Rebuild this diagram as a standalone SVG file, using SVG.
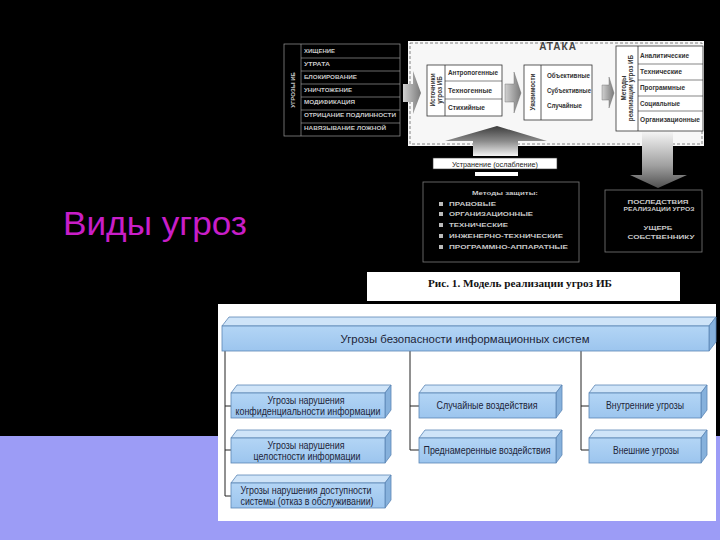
<svg xmlns="http://www.w3.org/2000/svg" width="720" height="540" viewBox="0 0 720 540">
<defs>
<linearGradient id="gFront" x1="0" y1="0" x2="0" y2="1"><stop offset="0" stop-color="#b3d5f5"/><stop offset="1" stop-color="#9cc5ee"/></linearGradient>
<linearGradient id="gArrowH" x1="0" y1="0" x2="1" y2="0"><stop offset="0" stop-color="#d0d0d0"/><stop offset="1" stop-color="#7a7a7a"/></linearGradient>
<linearGradient id="gUp" x1="0" y1="0" x2="0" y2="1"><stop offset="0" stop-color="#3c3c3c"/><stop offset="0.5" stop-color="#8a8a8a"/><stop offset="1" stop-color="#f4f4f4"/></linearGradient>
<linearGradient id="gDown" x1="0" y1="0" x2="0" y2="1"><stop offset="0" stop-color="#f4f4f4"/><stop offset="0.6" stop-color="#a0a0a0"/><stop offset="1" stop-color="#505050"/></linearGradient>
</defs>
<style>
.front{fill:url(#gFront);stroke:#5a85b5;stroke-width:0.8}
.top{fill:#cfe4f8;stroke:#5a85b5;stroke-width:0.8}
.side{fill:#86b1dc;stroke:#5a85b5;stroke-width:0.8}
.bt{font-family:"Liberation Sans",Arial,sans-serif;font-size:10.5px;fill:#1c2438;text-anchor:middle}
.conn{stroke:#222;stroke-width:1;fill:none}
.tw{font-family:"Liberation Sans",Arial,sans-serif;font-size:6px;font-weight:bold;fill:#c8c8c8}
.tb{font-family:"Liberation Sans",Arial,sans-serif;font-size:6.3px;font-weight:bold;fill:#333}
.ln{stroke:#9a9a9a;stroke-width:0.7;fill:none}
.bx{fill:#fff;stroke:#333;stroke-width:0.8}
</style>
<rect x="0" y="0" width="720" height="540" fill="#000"/>
<rect x="0" y="436" width="720" height="104" fill="#9c9cf6"/>

<text id="title" x="63" y="235" font-family="'Liberation Sans',Arial,sans-serif" font-size="33" fill="#c81ec8" textLength="184" lengthAdjust="spacingAndGlyphs">Виды угроз</text>

<!-- Top scanned figure -->
<g id="threat-table">
<rect x="284" y="44" width="116" height="92" class="ln"/>
<line x1="301" y1="44" x2="301" y2="136" class="ln"/>
<line x1="301" y1="58" x2="400" y2="58" class="ln"/>
<line x1="301" y1="71" x2="400" y2="71" class="ln"/>
<line x1="301" y1="84" x2="400" y2="84" class="ln"/>
<line x1="301" y1="97" x2="400" y2="97" class="ln"/>
<line x1="301" y1="110" x2="400" y2="110" class="ln"/>
<line x1="301" y1="123" x2="400" y2="123" class="ln"/>
<text class="tw" transform="translate(295,90) rotate(-90)" text-anchor="middle" font-size="7">УГРОЗЫ ИБ</text>
<text class="tw" x="304" y="53" textLength="31" lengthAdjust="spacingAndGlyphs">ХИЩЕНИЕ</text>
<text class="tw" x="304" y="66" textLength="26" lengthAdjust="spacingAndGlyphs">УТРАТА</text>
<text class="tw" x="304" y="79" textLength="53" lengthAdjust="spacingAndGlyphs">БЛОКИРОВАНИЕ</text>
<text class="tw" x="304" y="92" textLength="48" lengthAdjust="spacingAndGlyphs">УНИЧТОЖЕНИЕ</text>
<text class="tw" x="304" y="104" textLength="51" lengthAdjust="spacingAndGlyphs">МОДИФИКАЦИЯ</text>
<text class="tw" x="304" y="117" textLength="92" lengthAdjust="spacingAndGlyphs">ОТРИЦАНИЕ ПОДЛИННОСТИ</text>
<text class="tw" x="304" y="130" textLength="82" lengthAdjust="spacingAndGlyphs">НАВЯЗЫВАНИЕ ЛОЖНОЙ</text>
</g>

<g id="attack">
<rect x="408" y="41" width="296" height="105" fill="#f7f7f7"/>
<rect x="410" y="43" width="292" height="101" fill="none" stroke="#666" stroke-width="0.8" stroke-dasharray="3,2"/>
<text x="558" y="50" font-family="'Liberation Sans',Arial,sans-serif" font-size="10" font-weight="bold" fill="#444" text-anchor="middle" letter-spacing="1">АТАКА</text>
</g>

<g id="sources">
<rect x="427" y="65" width="75" height="51" class="bx"/>
<line x1="445" y1="65" x2="445" y2="116" stroke="#333" stroke-width="0.8"/>
<line x1="445" y1="81" x2="502" y2="81" stroke="#333" stroke-width="0.6"/>
<line x1="445" y1="99" x2="502" y2="99" stroke="#333" stroke-width="0.6"/>
<text class="tb" transform="translate(435,90) rotate(-90)" text-anchor="middle">Источники</text>
<text class="tb" transform="translate(442,90) rotate(-90)" text-anchor="middle">угроз ИБ</text>
<text class="tb" x="448" y="75" textLength="50" lengthAdjust="spacingAndGlyphs">Антропогенные</text>
<text class="tb" x="448" y="93" textLength="44" lengthAdjust="spacingAndGlyphs">Техногенные</text>
<text class="tb" x="448" y="110" textLength="37" lengthAdjust="spacingAndGlyphs">Стихийные</text>
</g>

<g id="vulnerabilities">
<rect x="524" y="65" width="68" height="55" class="bx"/>
<line x1="541" y1="65" x2="541" y2="120" stroke="#333" stroke-width="0.8"/>
<text class="tb" transform="translate(535,92) rotate(-90)" text-anchor="middle">Уязвимости</text>
<text class="tb" x="547" y="78" textLength="43" lengthAdjust="spacingAndGlyphs">Объективные</text>
<text class="tb" x="547" y="93" textLength="44" lengthAdjust="spacingAndGlyphs">Субъективные</text>
<text class="tb" x="547" y="108" textLength="35" lengthAdjust="spacingAndGlyphs">Случайные</text>
</g>

<g id="methods">
<rect x="616" y="46" width="87" height="85" class="bx"/>
<line x1="638" y1="46" x2="638" y2="131" stroke="#333" stroke-width="0.8"/>
<line x1="638" y1="64" x2="703" y2="64" stroke="#333" stroke-width="0.6"/>
<line x1="638" y1="80" x2="703" y2="80" stroke="#333" stroke-width="0.6"/>
<line x1="638" y1="96" x2="703" y2="96" stroke="#333" stroke-width="0.6"/>
<line x1="638" y1="111" x2="703" y2="111" stroke="#333" stroke-width="0.6"/>
<text class="tb" transform="translate(626,88) rotate(-90)" text-anchor="middle">Методы</text>
<text class="tb" transform="translate(633,88) rotate(-90)" text-anchor="middle">реализации угроз ИБ</text>
<text class="tb" x="640" y="58" textLength="49" lengthAdjust="spacingAndGlyphs">Аналитические</text>
<text class="tb" x="640" y="74" textLength="42" lengthAdjust="spacingAndGlyphs">Технические</text>
<text class="tb" x="640" y="90" textLength="45" lengthAdjust="spacingAndGlyphs">Программные</text>
<text class="tb" x="640" y="106" textLength="40" lengthAdjust="spacingAndGlyphs">Социальные</text>
<text class="tb" x="640" y="122" textLength="60" lengthAdjust="spacingAndGlyphs">Организационные</text>
</g>

<g id="protection">
<rect x="423" y="182" width="156" height="80" fill="none" stroke="#7a7a7a" stroke-width="0.8"/>
<text class="tw" x="505" y="195" text-anchor="middle" font-weight="normal" textLength="66" lengthAdjust="spacingAndGlyphs">Методы защиты:</text>
<g fill="#bbb">
<rect x="439" y="202" width="4" height="4"/><rect x="439" y="212" width="4" height="4"/><rect x="439" y="223" width="4" height="4"/><rect x="439" y="234" width="4" height="4"/><rect x="439" y="245" width="4" height="4"/>
</g>
<text class="tw" x="449" y="206" textLength="47" lengthAdjust="spacingAndGlyphs">ПРАВОВЫЕ</text>
<text class="tw" x="449" y="216" textLength="84" lengthAdjust="spacingAndGlyphs">ОРГАНИЗАЦИОННЫЕ</text>
<text class="tw" x="449" y="227" textLength="59" lengthAdjust="spacingAndGlyphs">ТЕХНИЧЕСКИЕ</text>
<text class="tw" x="449" y="238" textLength="114" lengthAdjust="spacingAndGlyphs">ИНЖЕНЕРНО-ТЕХНИЧЕСКИЕ</text>
<text class="tw" x="449" y="249" textLength="119" lengthAdjust="spacingAndGlyphs">ПРОГРАММНО-АППАРАТНЫЕ</text>
</g>

<g id="consequences">
<rect x="605" y="190" width="97" height="62" fill="none" stroke="#7a7a7a" stroke-width="0.8"/>
<text class="tw" x="658" y="204" text-anchor="middle" textLength="61" lengthAdjust="spacingAndGlyphs">ПОСЛЕДСТВИЯ</text>
<text class="tw" x="659" y="211" text-anchor="middle" textLength="71" lengthAdjust="spacingAndGlyphs">РЕАЛИЗАЦИИ УГРОЗ</text>
<text class="tw" x="658" y="230" text-anchor="middle" textLength="29" lengthAdjust="spacingAndGlyphs">УЩЕРБ</text>
<text class="tw" x="661" y="239" text-anchor="middle" textLength="67" lengthAdjust="spacingAndGlyphs">СОБСТВЕННИКУ</text>
</g>

<g id="top-arrows">
<polygon points="403,84 413,84 413,71 421,93 413,114 413,102 403,102" fill="url(#gArrowH)"/>
<polygon points="505,84 514,84 514,72 521,93 514,113 514,102 505,102" fill="url(#gArrowH)" stroke="#666" stroke-width="0.4"/>
<polygon points="602,85 609,85 609,77 614,93 609,108 609,100 602,100" fill="url(#gArrowH)" stroke="#666" stroke-width="0.4"/>
<polygon points="497,126 547,141 518,141 518,156 473,156 473,141 445,141" fill="url(#gUp)"/>
<rect x="433" y="158" width="124" height="11" fill="#fff" stroke="#333" stroke-width="0.6"/>
<text x="495" y="166.5" font-family="'Liberation Sans',Arial,sans-serif" font-size="7" fill="#222" text-anchor="middle" textLength="86" lengthAdjust="spacingAndGlyphs">Устранение (ослабление)</text>
<rect x="475" y="172" width="43" height="4" fill="#fff"/>
<polygon points="642,132 673,132 673,175 687,175 658,188 630,175 642,175" fill="url(#gDown)"/>
</g>

<!-- Caption -->
<g id="caption">
<rect x="367" y="272" width="313" height="29" fill="#fff"/>
<text x="520" y="287" font-family="'Liberation Serif','Times New Roman',serif" font-size="11" font-weight="bold" fill="#111" text-anchor="middle" textLength="184" lengthAdjust="spacingAndGlyphs">Рис. 1. Модель реализации угроз ИБ</text>
</g>

<!-- Bottom diagram -->
<rect x="218" y="304" width="498" height="217" fill="#fff"/>

<g id="connectors">
<path class="conn" d="M225,351 V496 H231 M225,406 H231 M225,450 H231"/>
<path class="conn" d="M410,351 V450 H419 M410,406 H419"/>
<path class="conn" d="M581,351 V450 H589 M581,406 H589"/>
</g>

<g id="n-header">
<polygon class="top" points="222,326 229,317 716,317 709,326"/>
<polygon class="side" points="709,326 716,317 716,342 709,351"/>
<rect class="front" x="222" y="326" width="487" height="25"/>
<text class="bt" x="465" y="343" font-size="13" textLength="249" lengthAdjust="spacingAndGlyphs">Угрозы безопасности информационных систем</text>
</g>

<g id="n-conf">
<polygon class="top" points="231,393 237,385 391,385 385,393"/>
<polygon class="side" points="385,393 391,385 391,410 385,418"/>
<rect class="front" x="231" y="393" width="154" height="25"/>
<text class="bt" x="306" y="404" textLength="77" lengthAdjust="spacingAndGlyphs">Угрозы нарушения</text>
<text class="bt" x="308" y="415" textLength="145" lengthAdjust="spacingAndGlyphs">конфиденциальности информации</text>
</g>

<g id="n-integ">
<polygon class="top" points="231,438 237,430 391,430 385,438"/>
<polygon class="side" points="385,438 391,430 391,455 385,463"/>
<rect class="front" x="231" y="438" width="154" height="25"/>
<text class="bt" x="306" y="449" textLength="77" lengthAdjust="spacingAndGlyphs">Угрозы нарушения</text>
<text class="bt" x="307" y="460" textLength="107" lengthAdjust="spacingAndGlyphs">целостности информации</text>
</g>

<g id="n-avail">
<polygon class="top" points="231,483 237,475 391,475 385,483"/>
<polygon class="side" points="385,483 391,475 391,500 385,508"/>
<rect class="front" x="231" y="483" width="154" height="25"/>
<text class="bt" x="306" y="494" textLength="131" lengthAdjust="spacingAndGlyphs">Угрозы нарушения доступности</text>
<text class="bt" x="307" y="505" textLength="133" lengthAdjust="spacingAndGlyphs">системы (отказ в обслуживании)</text>
</g>

<g id="n-random">
<polygon class="top" points="419,393 425,385 562,385 556,393"/>
<polygon class="side" points="556,393 562,385 562,410 556,418"/>
<rect class="front" x="419" y="393" width="137" height="25"/>
<text class="bt" x="487" y="409" textLength="101" lengthAdjust="spacingAndGlyphs">Случайные воздействия</text>
</g>

<g id="n-intent">
<polygon class="top" points="419,438 425,430 562,430 556,438"/>
<polygon class="side" points="556,438 562,430 562,455 556,463"/>
<rect class="front" x="419" y="438" width="137" height="25"/>
<text class="bt" x="487" y="454" textLength="127" lengthAdjust="spacingAndGlyphs">Преднамеренные воздействия</text>
</g>

<g id="n-internal">
<polygon class="top" points="589,393 595,385 707,385 701,393"/>
<polygon class="side" points="701,393 707,385 707,410 701,418"/>
<rect class="front" x="589" y="393" width="112" height="25"/>
<text class="bt" x="645" y="409" textLength="78" lengthAdjust="spacingAndGlyphs">Внутренние угрозы</text>
</g>

<g id="n-external">
<polygon class="top" points="589,438 595,430 707,430 701,438"/>
<polygon class="side" points="701,438 707,430 707,455 701,463"/>
<rect class="front" x="589" y="438" width="112" height="25"/>
<text class="bt" x="646" y="454" textLength="66" lengthAdjust="spacingAndGlyphs">Внешние угрозы</text>
</g>
</svg>
